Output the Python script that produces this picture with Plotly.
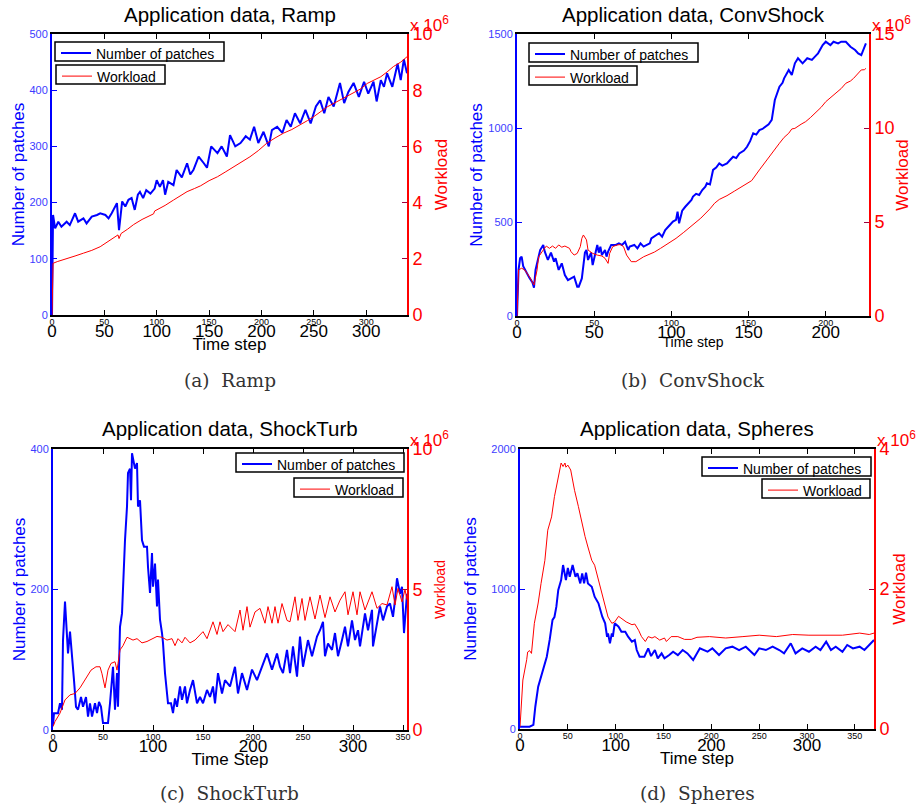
import plotly.graph_objects as go

# ---------------------------------------------------------------------------
# Series data: (time step, value). Patches are counts, workload is in 1e6 units.
# ---------------------------------------------------------------------------
ramp_patches = [
    (0, 0), (1, 178), (3, 154), (6, 166), (9, 157), (14, 166), (17, 160), (22, 181),
    (25, 166), (30, 172), (33, 163), (38, 175), (43, 178), (46, 181), (51, 178),
    (54, 172), (57, 181), (60, 193), (62, 199), (64, 151), (67, 202), (70, 193),
    (73, 205), (76, 208), (79, 187), (82, 214), (84, 219), (87, 208), (90, 222),
    (94, 216), (98, 225), (100, 240), (103, 228), (106, 240), (108, 214), (111, 237),
    (116, 231), (119, 258), (124, 245), (129, 270), (132, 250), (135, 258), (140, 282),
    (145, 270), (148, 262), (152, 300), (158, 288), (162, 300), (167, 282), (170, 320),
    (175, 300), (180, 306), (185, 318), (189, 312), (193, 335), (197, 306), (202, 326),
    (207, 300), (210, 329), (215, 335), (220, 324), (224, 347), (228, 335), (232, 359),
    (237, 341), (242, 365), (247, 341), (252, 371), (256, 382), (260, 359), (264, 388),
    (269, 371), (272, 394), (275, 413), (279, 377), (283, 397), (288, 413), (293, 388),
    (298, 415), (302, 394), (307, 415), (310, 380), (314, 418), (317, 406), (320, 430),
    (325, 406), (330, 447), (333, 418), (336, 455), (339, 430),
]
ramp_workload = [
    (0, 0), (1, 1.84), (5, 1.9), (14, 2.02), (22, 2.1), (30, 2.2), (38, 2.3), (46, 2.43),
    (53, 2.6), (60, 2.8), (63, 2.85), (64, 2.72), (66, 2.9), (72, 3.05), (78, 3.22),
    (86, 3.4), (94, 3.56), (97, 3.6), (98, 3.7), (100, 3.74), (108, 3.9), (116, 4.09),
    (122, 4.22), (129, 4.39), (136, 4.5), (142, 4.6), (150, 4.78), (158, 4.92),
    (166, 5.1), (174, 5.28), (181, 5.42), (189, 5.63), (197, 5.85), (205, 6.11),
    (213, 6.3), (221, 6.47), (229, 6.6), (237, 6.76), (244, 6.92), (250, 7.06),
    (257, 7.25), (263, 7.41), (270, 7.55), (275, 7.65), (282, 7.8), (288, 7.89),
    (295, 8.05), (301, 8.24), (308, 8.36), (314, 8.48), (320, 8.65), (326, 8.84),
    (333, 9.0), (339, 9.19),
]

convshock_patches = [
    (0, 0), (1, 245), (2, 307), (3, 316), (4, 265), (6, 231), (8, 204), (10, 178),
    (11, 151), (12, 245), (14, 324), (15, 351), (17, 378), (18, 342), (20, 298),
    (22, 337), (24, 289), (25, 307), (27, 245), (29, 280), (31, 218), (33, 191),
    (35, 200), (37, 209), (39, 156), (40, 156), (42, 200), (43, 262), (44, 337),
    (45, 351), (46, 298), (48, 337), (49, 271), (51, 342), (52, 378), (53, 337),
    (54, 369), (55, 324), (57, 351), (58, 316), (59, 342), (61, 378), (64, 378),
    (66, 386), (68, 378), (70, 395), (72, 351), (73, 369), (76, 378), (78, 360),
    (80, 386), (82, 369), (86, 386), (87, 413), (90, 431), (92, 440), (94, 422),
    (96, 457), (99, 484), (101, 502), (103, 511), (104, 555), (105, 493), (107, 560),
    (109, 581), (111, 600), (113, 617), (114, 635), (116, 650), (118, 644), (120, 670),
    (122, 688), (123, 706), (125, 700), (127, 777), (129, 790), (131, 812), (133, 800),
    (136, 812), (138, 830), (140, 847), (142, 840), (144, 865), (147, 880), (149, 900),
    (151, 930), (153, 972), (155, 965), (157, 989), (159, 995), (161, 1007),
    (163, 1020), (165, 1043), (167, 1149), (170, 1220), (172, 1240), (173, 1264),
    (176, 1309), (178, 1282), (180, 1344), (182, 1371), (185, 1344), (188, 1371),
    (191, 1362), (193, 1380), (195, 1397), (198, 1441), (200, 1459), (203, 1441),
    (205, 1459), (208, 1450), (210, 1459), (213, 1459), (216, 1432), (219, 1415),
    (221, 1397), (223, 1388), (225, 1432), (226, 1450),
]
convshock_workload = [
    (0, 0), (1, 2.45), (3, 2.54), (5, 2.45), (8, 2.09), (10, 1.82), (11, 1.65),
    (13, 2.45), (14, 3.15), (17, 3.51), (19, 3.72), (21, 3.6), (23, 3.72), (25, 3.6),
    (27, 3.78), (29, 3.66), (31, 3.72), (34, 3.6), (35, 3.42), (37, 3.24), (39, 3.33),
    (41, 3.69), (42, 4.13), (43, 4.31), (45, 4.05), (46, 3.51), (49, 3.33), (52, 3.24),
    (55, 3.19), (57, 3.07), (59, 2.8), (60, 3.33), (62, 3.69), (65, 3.78), (67, 3.8),
    (69, 3.69), (71, 3.24), (74, 2.89), (77, 2.89), (82, 3.15), (89, 3.4), (93, 3.6),
    (98, 3.85), (103, 4.13), (108, 4.45), (114, 4.84), (119, 5.2), (125, 5.7),
    (128, 6.0), (131, 6.2), (136, 6.4), (141, 6.65), (146, 6.88), (152, 7.2),
    (157, 7.77), (160, 8.1), (163, 8.47), (166, 8.8), (170, 9.19), (173, 9.5),
    (176, 9.72), (178, 9.95), (180, 9.98), (184, 10.2), (187, 10.34), (190, 10.55),
    (193, 10.78), (197, 11.1), (200, 11.4), (203, 11.6), (206, 11.85), (210, 12.1),
    (213, 12.38), (216, 12.5), (218, 12.64), (221, 12.9), (223, 13.09), (225, 13.1),
    (226, 13.17),
]

shockturb_patches = [
    (0, 7), (1, 24), (5, 24), (7, 38), (9, 29), (10, 128), (12, 183), (14, 133),
    (15, 109), (17, 140), (19, 109), (21, 71), (23, 33), (25, 29), (28, 47), (30, 33),
    (33, 47), (35, 19), (37, 38), (39, 19), (42, 38), (44, 24), (46, 40), (48, 33),
    (50, 10), (55, 10), (57, 38), (60, 90), (62, 29), (64, 81), (65, 33), (67, 147),
    (69, 166), (70, 204), (72, 270), (74, 318), (75, 366), (77, 372), (78, 327),
    (79, 394), (81, 380), (82, 372), (84, 380), (85, 318), (87, 327), (89, 270),
    (91, 261), (94, 261), (95, 232), (97, 195), (99, 252), (100, 204), (102, 237),
    (104, 176), (105, 214), (107, 157), (109, 138), (110, 124), (112, 81), (114, 57),
    (115, 38), (118, 38), (120, 24), (122, 45), (124, 33), (127, 62), (129, 43),
    (132, 62), (134, 38), (137, 57), (140, 71), (144, 38), (147, 47), (150, 38),
    (154, 57), (157, 47), (160, 62), (162, 38), (165, 81), (169, 52), (172, 71),
    (177, 62), (182, 90), (185, 52), (189, 81), (194, 57), (199, 86), (204, 71),
    (209, 90), (214, 109), (219, 86), (224, 109), (227, 90), (230, 81), (234, 114),
    (237, 81), (240, 119), (244, 76), (247, 133), (250, 90), (255, 128), (259, 105),
    (264, 133), (267, 142), (270, 154), (272, 105), (275, 123), (279, 114), (282, 138),
    (285, 105), (289, 128), (292, 147), (295, 119), (299, 156), (302, 128), (305, 142),
    (307, 119), (312, 166), (315, 142), (319, 171), (320, 119), (324, 152), (327, 176),
    (330, 156), (334, 176), (337, 180), (340, 161), (342, 185), (344, 216), (347, 194),
    (349, 204), (351, 138), (354, 194),
]
shockturb_workload = [
    (0, 0.12), (2, 0.3), (7, 0.6), (12, 1.07), (17, 1.25), (22, 1.3), (27, 1.5),
    (30, 1.67), (33, 1.85), (38, 2.13), (43, 2.25), (47, 2.25), (49, 2.0), (52, 1.5),
    (55, 2.13), (58, 2.37), (62, 2.43), (64, 2.13), (65, 2.37), (67, 2.85), (70, 3.0),
    (74, 3.3), (77, 3.25), (80, 3.2), (84, 3.25), (89, 3.1), (94, 3.15), (99, 3.25),
    (104, 3.33), (109, 3.3), (114, 3.2), (119, 3.25), (122, 3.0), (125, 3.25),
    (129, 3.1), (132, 3.3), (137, 3.1), (142, 3.2), (147, 3.4), (150, 3.5), (154, 3.25),
    (157, 3.55), (160, 3.85), (164, 3.4), (167, 3.85), (170, 3.5), (175, 3.75),
    (182, 3.5), (187, 4.27), (190, 3.55), (194, 4.39), (197, 3.66), (202, 4.2),
    (207, 4.33), (212, 3.8), (215, 4.39), (219, 3.8), (222, 4.39), (225, 3.8),
    (229, 4.5), (234, 3.9), (237, 3.85), (242, 4.74), (245, 3.9), (249, 4.68),
    (252, 3.9), (257, 4.74), (262, 3.95), (267, 4.8), (272, 4.0), (277, 4.74),
    (282, 4.2), (287, 4.62), (292, 4.92), (295, 4.1), (300, 4.92), (304, 4.1),
    (307, 4.92), (312, 4.27), (319, 4.92), (324, 4.33), (329, 4.5), (334, 4.45),
    (339, 5.1), (342, 4.45), (345, 5.04), (349, 4.56), (352, 5.0), (354, 4.63),
]

spheres_patches = [
    (0, 16), (5, 14), (10, 16), (14, 29), (16, 159), (19, 302), (22, 374), (24, 420),
    (26, 469), (28, 516), (31, 636), (34, 779), (36, 800), (38, 874), (40, 993),
    (42, 1040), (43, 1064), (45, 1171), (48, 1064), (50, 1150), (52, 1088), (55, 1171),
    (58, 1088), (60, 1112), (63, 1040), (65, 1112), (67, 1040), (69, 1117), (71, 1040),
    (75, 1016), (78, 945), (82, 898), (84, 850), (86, 802), (89, 755), (91, 659),
    (92, 683), (94, 612), (96, 683), (97, 659), (99, 755), (103, 731), (106, 695),
    (110, 695), (113, 659), (117, 624), (120, 636), (122, 564), (125, 516), (130, 516),
    (134, 576), (137, 521), (141, 564), (144, 505), (148, 540), (151, 505), (156, 528),
    (160, 552), (165, 528), (170, 564), (175, 540), (180, 505), (181, 493), (188, 576),
    (196, 552), (201, 576), (208, 528), (215, 576), (222, 588), (229, 564), (236, 588),
    (245, 528), (250, 576), (257, 564), (264, 588), (271, 564), (276, 540), (283, 612),
    (288, 540), (295, 576), (302, 552), (309, 588), (314, 564), (320, 624), (325, 564),
    (330, 588), (337, 552), (342, 600), (348, 576), (355, 588), (360, 564), (365, 600),
    (370, 636),
]
spheres_workload = [
    (0, 0.03), (3, 0.7), (7, 0.99), (8, 1.1), (10, 1.12), (12, 1.08), (15, 1.51),
    (19, 1.8), (22, 2.08), (26, 2.41), (29, 2.84), (33, 3.03), (36, 3.32), (40, 3.6),
    (43, 3.8), (45, 3.75), (47, 3.8), (48, 3.74), (50, 3.77), (53, 3.7), (57, 3.41),
    (61, 3.18), (64, 2.99), (68, 2.75), (71, 2.6), (75, 2.41), (78, 2.34), (82, 2.13),
    (85, 1.94), (89, 1.75), (92, 1.6), (96, 1.51), (99, 1.53), (103, 1.61), (106, 1.58),
    (111, 1.53), (117, 1.49), (120, 1.5), (124, 1.41), (127, 1.32), (131, 1.25),
    (134, 1.32), (138, 1.3), (141, 1.32), (146, 1.27), (151, 1.3), (153, 1.25),
    (158, 1.32), (165, 1.32), (172, 1.28), (179, 1.28), (185, 1.31), (198, 1.32),
    (215, 1.3), (233, 1.32), (250, 1.34), (268, 1.32), (285, 1.35), (302, 1.34),
    (320, 1.34), (337, 1.34), (355, 1.37), (365, 1.35), (370, 1.37),
]

# Tick values / labels
ramp_xticks = [0, 50, 100, 150, 200, 250, 300]
ramp_xlabels = ["0", "50", "100", "150", "200", "250", "300"]
convshock_xticks = [0, 50, 100, 150, 200]
convshock_xlabels = ["0", "50", "100", "150", "200"]
long_xticks = [0, 50, 100, 150, 200, 250, 300, 350]
long_xlabels_big = ["0", "", "100", "", "200", "", "300", ""]
long_xlabels_small = ["0", "50", "100", "150", "200", "250", "300", "350"]

W, H = 918, 809
FONT = "'Liberation Sans', Arial, Helvetica, sans-serif"
SERIF = "'DejaVu Serif', 'Liberation Serif', serif"
BLUE = "#0000ff"
RED = "#ff0000"
BLUE_TICK = "#3c3cff"


def fx(px):
    return px / W


def fy(py):
    return 1 - py / H


panels = [
    dict(title="Application data, Ramp", caption="(a)\u00a0\u00a0Ramp",
         patches=ramp_patches, work=ramp_workload,
         box=(52, 407, 34, 315), xr=[0, 339],
         xt=ramp_xticks, xbig=ramp_xlabels, xsmall=ramp_xlabels,
         y1r=[0, 500], y1t=[0, 100, 200, 300, 400, 500],
         y2r=[0, 10], y2t=[0, 2, 4, 6, 8, 10],
         xtitle="Time step", xts=17, xstand=12, y2ts=17, y1s=0, y2s=3,
         leg=[(55, 42, 224, 61), (56, 65, 165, 84)], cap_y=380),
    dict(title="Application data, ConvShock", caption="(b)\u00a0\u00a0ConvShock",
         patches=convshock_patches, work=convshock_workload,
         box=(517, 869, 34, 316), xr=[0, 228],
         xt=convshock_xticks, xbig=convshock_xlabels, xsmall=convshock_xlabels,
         y1r=[0, 1500], y1t=[0, 500, 1000, 1500],
         y2r=[0, 15], y2t=[0, 5, 10, 15],
         xtitle="Time step", xts=14, xstand=10, y2ts=17, y1s=1, y2s=2,
         leg=[(529, 43, 698, 62), (529, 66, 637, 85)], cap_y=380),
    dict(title="Application data, ShockTurb", caption="(c)\u00a0\u00a0ShockTurb",
         patches=shockturb_patches, work=shockturb_workload,
         box=(53, 407, 449, 730), xr=[0, 354],
         xt=long_xticks, xbig=long_xlabels_big, xsmall=long_xlabels_small,
         y1r=[0, 400], y1t=[0, 200, 400],
         y2r=[0, 10], y2t=[0, 5, 10],
         xtitle="Time Step", xts=17, xstand=12, y2ts=14, y1s=0, y2s=4,
         leg=[(236, 453, 404, 472), (294, 478, 403, 497)], cap_y=793),
    dict(title="Application data, Spheres", caption="(d)\u00a0\u00a0Spheres",
         patches=spheres_patches, work=spheres_workload,
         box=(520, 874, 449, 729), xr=[0, 370],
         xt=long_xticks, xbig=long_xlabels_big, xsmall=long_xlabels_small,
         y1r=[0, 2000], y1t=[0, 1000, 2000],
         y2r=[0, 4], y2t=[0, 2, 4],
         xtitle="Time step", xts=17, xstand=12, y2ts=17, y1s=10, y2s=0,
         leg=[(702, 457, 871, 476), (762, 479, 870, 498)], cap_y=793),
]

fig = go.Figure()
layout = dict(
    width=W, height=H, margin=dict(l=0, r=0, t=0, b=0, autoexpand=False),
    paper_bgcolor="white", plot_bgcolor="white",
    font=dict(family=FONT, color="black"),
    showlegend=True,
)
annotations = []
shapes = []

for i, p in enumerate(panels):
    k = 2 * i + 1
    xa, xb = f"x{'' if k == 1 else k}", f"x{k + 1}"
    ya, yb = f"y{'' if k == 1 else k}", f"y{k + 1}"
    xa_key, xb_key = f"xaxis{'' if k == 1 else k}", f"xaxis{k + 1}"
    ya_key, yb_key = f"yaxis{'' if k == 1 else k}", f"yaxis{k + 1}"
    l, r, t, b = p["box"]
    xdom = [fx(l), fx(r)]
    ydom = [fy(b), fy(t)]
    leg1 = "legend" if i == 0 else f"legend{2 * i + 1}"
    leg2 = f"legend{2 * i + 2}"

    pt, pv = zip(*p["patches"])
    wt, wv = zip(*p["work"])
    fig.add_trace(go.Scatter(x=pt, y=pv, mode="lines", name="Number of patches",
                             line=dict(color=BLUE, width=2), xaxis=xa, yaxis=ya,
                             legend=leg1))
    fig.add_trace(go.Scatter(x=wt, y=wv, mode="lines", name="Workload",
                             line=dict(color=RED, width=1), xaxis=xb, yaxis=yb,
                             legend=leg2))

    # bottom axis with large labels, mirrored ticks along the top border
    layout[xa_key] = dict(
        domain=xdom, anchor=ya, range=p["xr"], showgrid=False, zeroline=False,
        showline=True, linecolor="black", linewidth=1.5, mirror="ticks",
        ticks="inside", ticklen=5, tickcolor="black",
        tickvals=p["xt"], ticktext=p["xbig"],
        tickfont=dict(size=17, color="black"),
    )
    # overlaid bottom axis carrying the small labels and the axis title
    layout[xb_key] = dict(
        overlaying=xa, anchor=ya, side="bottom", range=p["xr"], showgrid=False,
        zeroline=False, showline=False, ticks="",
        tickvals=p["xt"], ticktext=p["xsmall"],
        tickfont=dict(size=9, color="black"),
        title=dict(text=p["xtitle"], font=dict(size=p["xts"], color="black"),
                   standoff=p["xstand"]),
    )
    layout[ya_key] = dict(
        domain=ydom, anchor=xa, range=p["y1r"], showgrid=False, zeroline=False,
        showline=True, linecolor=BLUE, linewidth=2, ticks="inside", ticklen=5,
        tickcolor=BLUE, tickvals=p["y1t"], tickfont=dict(size=11, color=BLUE_TICK),
        title=dict(text="Number of patches", font=dict(size=17, color=BLUE),
                   standoff=p["y1s"]),
    )
    layout[yb_key] = dict(
        overlaying=ya, anchor=xa, side="right", range=p["y2r"], showgrid=False,
        zeroline=False, showline=True, linecolor=RED, linewidth=2, ticks="inside",
        ticklen=5, tickcolor="#a0003c", tickvals=p["y2t"],
        tickfont=dict(size=18, color=RED),
        title=dict(text="Workload", font=dict(size=p["y2ts"], color=RED),
                   standoff=p["y2s"]),
    )

    # one framed legend box per series
    for key, (bx0, by0, bx1, by1) in zip([leg1, leg2], p["leg"]):
        shapes.append(dict(type="rect", xref="paper", yref="paper",
                           x0=fx(bx0), x1=fx(bx1), y0=fy(by1), y1=fy(by0),
                           line=dict(color="black", width=1.5), fillcolor="white",
                           layer="above"))
        layout[key] = dict(
            x=fx(bx0 + 1), y=fy((by0 + by1) / 2 - 14), xanchor="left", yanchor="top",
            xref="paper", yref="paper", bgcolor="rgba(0,0,0,0)", borderwidth=0,
            font=dict(size=14, color="black", family=FONT), itemwidth=30,
            tracegroupgap=0,
        )

    cx = (l + r) / 2
    annotations.append(dict(text=p["title"], x=fx(cx), y=fy(t - 20), xref="paper",
                            yref="paper", xanchor="center", yanchor="middle",
                            showarrow=False, font=dict(size=20.5, color="black")))
    annotations.append(dict(text="x 10<sup>6</sup>", x=fx(r + 1), y=fy(t + 3),
                            xref="paper", yref="paper", xanchor="left", yanchor="bottom",
                            showarrow=False, font=dict(size=17, color=RED)))
    annotations.append(dict(text=p["caption"], x=fx(cx), y=fy(p["cap_y"]), xref="paper",
                            yref="paper", xanchor="center", yanchor="middle",
                            showarrow=False,
                            font=dict(size=18.5, color="#333333", family=SERIF)))

layout["annotations"] = annotations
layout["shapes"] = shapes
fig.update_layout(**layout)
fig.write_html("out.html")
